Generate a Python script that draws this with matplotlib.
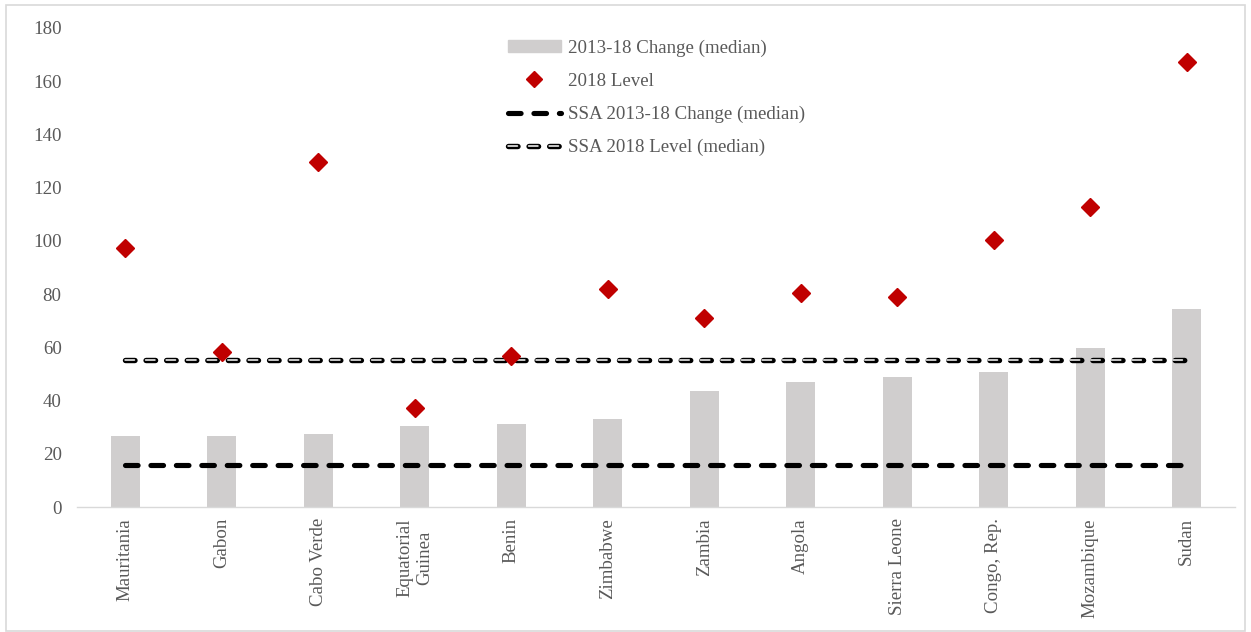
import matplotlib
matplotlib.use("Agg")
import matplotlib.pyplot as plt
from matplotlib.patches import Rectangle
from matplotlib.lines import Line2D

countries = ["Mauritania", "Gabon", "Cabo Verde", "Equatorial\nGuinea", "Benin", "Zimbabwe",
             "Zambia", "Angola", "Sierra Leone", "Congo, Rep.", "Mozambique", "Sudan"]
change_2013_18 = [26.8, 26.8, 27.3, 30.6, 31.2, 33.2, 43.5, 47.0, 48.8, 50.7, 59.8, 74.4]
level_2018 = [97.4, 58.3, 129.8, 37.2, 56.7, 82.0, 70.9, 80.5, 79.1, 100.4, 112.7, 167.3]
ssa_change = 15.8
ssa_level = 55.2
yticks = [0, 20, 40, 60, 80, 100, 120, 140, 160, 180]

plt.rcParams['font.family'] = ['Liberation Serif', 'DejaVu Serif']
txt = '#595959'
fs = 13.6

fig = plt.figure(figsize=(12.51, 6.32), dpi=100)
ax = fig.add_axes([77/1251, 1-507/632, (1235-77)/1251, (507-28)/632])

x = list(range(len(countries)))
ax.bar(x, change_2013_18, width=0.30, color='#d0cece', zorder=1)
ax.plot(x, level_2018, linestyle='none', marker='D', markersize=9, color='#c00000', zorder=4)

chg_kw = dict(color='black', lw=3.7, dashes=(2.45, 2.5), dash_capstyle='round')
lvl_kw = dict(color='black', lw=3.9, dashes=(1.75, 2.05), dash_capstyle='round')
lvl_in_kw = dict(color='white', lw=1.1, dashes=(6.2, 7.25), dash_capstyle='round')

ax.plot([x[0], x[-1]], [ssa_change]*2, zorder=3, **chg_kw)
ax.plot([x[0], x[-1]], [ssa_level]*2, zorder=3, **lvl_kw)
ax.plot([x[0], x[-1]], [ssa_level]*2, zorder=3.5, **lvl_in_kw)

ax.set_xlim(-0.5, len(countries)-0.5)
ax.set_ylim(0, 180)
ax.set_yticks(yticks)
ax.set_yticklabels([str(v) for v in yticks], fontsize=fs, color=txt)
ax.set_xticks(x)
ax.set_xticklabels(countries, rotation=90, fontsize=fs, color=txt, va='top', ha='center',
                   multialignment='center')
ax.tick_params(axis='x', length=0, pad=8)
ax.tick_params(axis='y', length=0, pad=11)
for s in ['top', 'right', 'left']:
    ax.spines[s].set_visible(False)
ax.spines['bottom'].set_color('#d9d9d9')
ax.spines['bottom'].set_linewidth(1.0)

# legend
h_bar = Rectangle((0, 0), 1, 1, color='#d0cece')
h_pt = Line2D([], [], linestyle='none', marker='D', markersize=8, color='#c00000')
h_chg = Line2D([], [], **chg_kw)
h_lvl = Line2D([], [], **lvl_kw)
h_lvl2 = Line2D([], [], **lvl_in_kw)
leg = ax.legend([h_bar, h_pt, h_chg, (h_lvl, h_lvl2)],
                ["2013-18 Change (median)", "2018 Level", "SSA 2013-18 Change (median)",
                 "SSA 2018 Level (median)"],
                loc='upper left', bbox_to_anchor=((500-77)/1158, 1-(32-28)/479),
                frameon=False, fontsize=fs, handlelength=2.85, handleheight=0.6,
                labelspacing=0.84, handletextpad=0.35, borderaxespad=0)
for t in leg.get_texts():
    t.set_color(txt)

# outer border
fig.patches.append(Rectangle((6/1251, 1/632), 1239/1251, 626/632, transform=fig.transFigure,
                             fill=False, edgecolor='#d9d9d9', lw=1.2))

fig.savefig('out.png', dpi=100)
